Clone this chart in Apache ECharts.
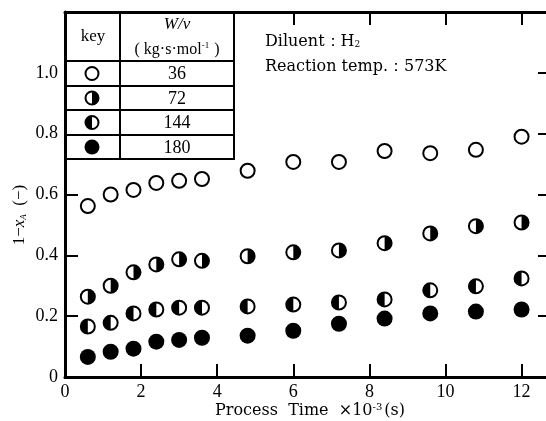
<!DOCTYPE html>
<html>
<head>
<meta charset="utf-8">
<script src="https://cdn.jsdelivr.net/npm/echarts@6/dist/echarts.min.js"></script>
<style>
  html, body { margin: 0; padding: 0; background: #fff; }
  #chart { width: 546px; height: 421px; }
</style>
</head>
<body>
<div id="chart"></div>
<script>
// process time (x10^-3 s)
var times = [0.6, 1.2, 1.8, 2.4, 3.0, 3.6, 4.8, 6.0, 7.2, 8.4, 9.6, 10.8, 12.0];
// 1 - x_A for each W/v
var wv36  = [0.562, 0.600, 0.615, 0.638, 0.645, 0.651, 0.678, 0.707, 0.707, 0.743, 0.736, 0.747, 0.790];
var wv72  = [0.264, 0.300, 0.344, 0.370, 0.387, 0.382, 0.397, 0.410, 0.416, 0.440, 0.472, 0.496, 0.508];
var wv144 = [0.166, 0.178, 0.209, 0.222, 0.228, 0.228, 0.232, 0.238, 0.245, 0.255, 0.285, 0.298, 0.324];
var wv180 = [0.066, 0.083, 0.093, 0.116, 0.122, 0.129, 0.136, 0.152, 0.175, 0.192, 0.209, 0.215, 0.222];
var keyLabels = ['36', '72', '144', '180'];
var keyKinds = ['open', 'right', 'left', 'full'];

var serif = '"Liberation Serif", "DejaVu Serif", serif';
var wide = '"DejaVu Serif", serif';

// marker made of a white circle and a black half / full disc
function marker(kind, cx, cy, r, z) {
    var kids = [];
    z = z || 0;
    if (kind === 'full') {
        kids.push({ type: 'circle', z: z, shape: { cx: cx, cy: cy, r: r }, style: { fill: '#000' } });
        return kids;
    }
    kids.push({ type: 'circle', z: z, shape: { cx: cx, cy: cy, r: r - 1 }, style: { fill: '#fff' } });
    if (kind === 'right') {
        kids.push({ type: 'sector', z: z, shape: { cx: cx, cy: cy, r0: 0, r: r - 1, startAngle: -Math.PI / 2, endAngle: Math.PI / 2 }, style: { fill: '#000' } });
    } else if (kind === 'left') {
        kids.push({ type: 'sector', z: z, shape: { cx: cx, cy: cy, r0: 0, r: r - 1, startAngle: Math.PI / 2, endAngle: Math.PI * 1.5 }, style: { fill: '#000' } });
    }
    kids.push({ type: 'circle', z: z, shape: { cx: cx, cy: cy, r: r - 1 }, style: { fill: 'none', stroke: '#000', lineWidth: 2 } });
    return kids;
}

function pairs(ys) {
    return times.map(function (t, i) { return [t, ys[i]]; });
}

function makeSeries(kind, ys) {
    return {
        type: 'custom',
        data: pairs(ys),
        renderItem: function (params, api) {
            var p = api.coord([api.value(0), api.value(1)]);
            return { type: 'group', children: marker(kind, p[0], p[1], 8) };
        }
    };
}

// table + annotations
var tL = 66, tR = 234, tT = 13, tB = 159, colX = 120;
var rowY = [61, 86, 110, 135, 159];
var graphics = [
    { type: 'rect', shape: { x: tL + 1, y: tT + 1, width: tR - tL - 1, height: tB - tT - 1 }, style: { fill: '#fff' }, z: 10 },
    { type: 'line', shape: { x1: tR, y1: tT, x2: tR, y2: tB }, style: { stroke: '#000', lineWidth: 2 }, z: 11 },
    { type: 'line', shape: { x1: colX, y1: tT, x2: colX, y2: tB }, style: { stroke: '#000', lineWidth: 2 }, z: 11 }
];
rowY.forEach(function (y) {
    graphics.push({ type: 'line', shape: { x1: tL - 1, y1: y, x2: tR + 1, y2: y }, style: { stroke: '#000', lineWidth: 2 }, z: 11 });
});
graphics.push({ type: 'text', x: 93, y: 37, z: 12, style: { text: 'key', font: '17px ' + serif, fill: '#000', align: 'center', verticalAlign: 'middle' } });
graphics.push({ type: 'text', x: 177, y: 25, z: 12, style: { text: 'W/v', font: 'italic 17px ' + serif, fill: '#000', align: 'center', verticalAlign: 'middle' } });
graphics.push({ type: 'text', x: 177, y: 50, z: 12, style: {
    text: '{n|( kg·s·mol}{s|-1}{n| )}', align: 'center', verticalAlign: 'middle',
    rich: { n: { font: '16px ' + serif, fill: '#000' }, s: { font: '9px ' + serif, fill: '#000', padding: [0, 1, 8, 0] } }
} });
keyLabels.forEach(function (lab, i) {
    var cy = (rowY[i] + rowY[i + 1]) / 2;
    graphics.push({ type: 'text', x: 177, y: cy + 1, z: 12, style: { text: lab, font: '18px ' + serif, fill: '#000', align: 'center', verticalAlign: 'middle' } });
    marker(keyKinds[i], 92, cy, 7.5, 13).forEach(function (el) { graphics.push(el); });
});
graphics.push({ type: 'text', x: 265, y: 42, style: {
    text: '{n|Diluent：H}{s|2}', verticalAlign: 'middle',
    rich: { n: { font: '16px ' + wide, fill: '#000' }, s: { font: '9px ' + wide, fill: '#000', padding: [6, 0, 0, 0] } }
} });
graphics.push({ type: 'text', x: 265, y: 67, style: { text: 'Reaction temp.：573K', font: '16px ' + wide, fill: '#000', verticalAlign: 'middle' } });
graphics.push({ type: 'text', x: 20, y: 215, rotation: Math.PI / 2, style: {
    text: '{n|1−}{i|x}{s|A}{n|  (−)}', align: 'center', verticalAlign: 'middle',
    rich: { n: { font: '17px ' + serif, fill: '#000' }, i: { font: 'italic 17px ' + serif, fill: '#000' }, s: { font: 'italic 9px ' + serif, fill: '#000', padding: [7, 0, 0, 0] } }
} });
graphics.push({ type: 'text', x: 310, y: 411, style: {
    text: '{n|Process  Time  ×10}{s|-3}{n|(s)}', align: 'center', verticalAlign: 'middle',
    rich: { n: { font: '16px ' + wide, fill: '#000' }, s: { font: '10px ' + wide, fill: '#000', padding: [0, 2, 8, 0] } }
} });

var axisLineStyle = { color: '#000', width: 3 };
var chart = echarts.init(document.getElementById('chart'));
chart.setOption({
    animation: false,
    backgroundColor: '#fff',
    grid: { left: 65, top: 12, width: 487, height: 365, outerBoundsMode: 'none', containLabel: false },
    xAxis: [{
        type: 'value', min: 0, max: 12.8, interval: 2, position: 'bottom',
        axisLine: { onZero: false, lineStyle: axisLineStyle },
        axisTick: { inside: true, length: 13, lineStyle: { color: '#000', width: 2 } },
        axisLabel: { showMaxLabel: false, color: '#000', fontFamily: serif, fontSize: 18, margin: 6 },
        splitLine: { show: false }
    }, {
        type: 'value', min: 0, max: 12.8, interval: 2, position: 'top',
        axisLine: { onZero: false, lineStyle: axisLineStyle },
        axisTick: { inside: true, length: 13, lineStyle: { color: '#000', width: 2 } },
        axisLabel: { show: false },
        splitLine: { show: false }
    }],
    yAxis: [{
        type: 'value', min: 0, max: 1.2, interval: 0.2, position: 'left',
        axisLine: { onZero: false, lineStyle: axisLineStyle },
        axisTick: { inside: true, length: 13, lineStyle: { color: '#000', width: 2 } },
        axisLabel: {
            showMaxLabel: false, color: '#000', fontFamily: serif, fontSize: 18, margin: 7,
            formatter: function (v) { return v === 0 ? '0' : v.toFixed(1); }
        },
        splitLine: { show: false }
    }, {
        type: 'value', min: 0, max: 1.2, interval: 0.2, position: 'right',
        axisLine: { onZero: false, lineStyle: axisLineStyle },
        axisTick: { inside: true, length: 14, lineStyle: { color: '#000', width: 2 } },
        axisLabel: { show: false },
        splitLine: { show: false }
    }],
    graphic: graphics,
    series: [
        makeSeries('open', wv36),
        makeSeries('right', wv72),
        makeSeries('left', wv144),
        makeSeries('full', wv180)
    ]
});
</script>
</body>
</html>
